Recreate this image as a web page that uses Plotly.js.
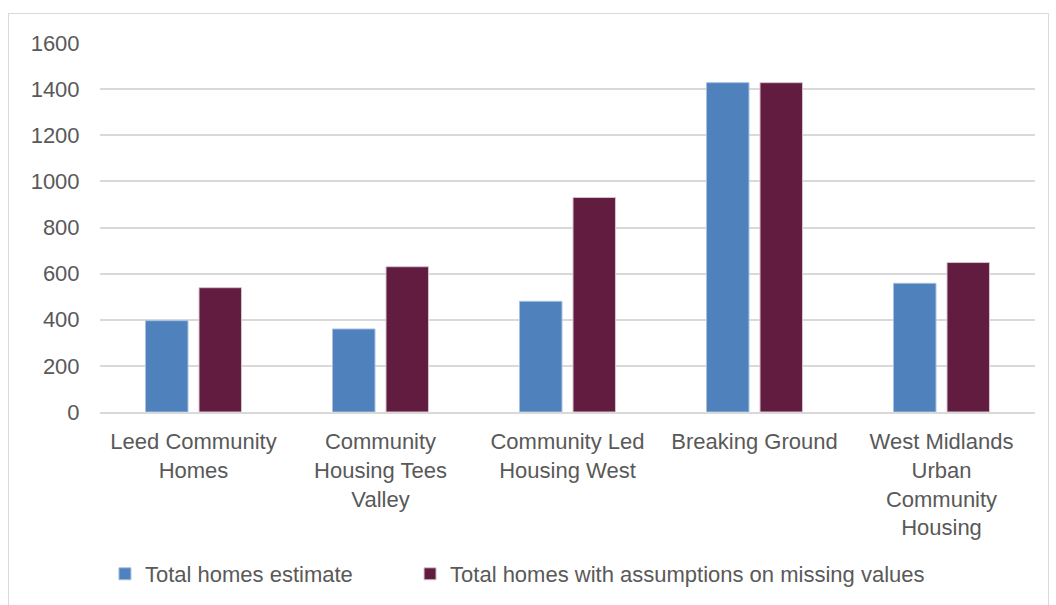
<!DOCTYPE html>
<html>
<head>
<meta charset="utf-8">
<script src="https://cdn.plot.ly/plotly-3.0.1.min.js"></script>
<style>
html,body{margin:0;padding:0;background:#fff;}
#frame{position:absolute;left:8px;top:13px;width:1041px;height:600px;border:1px solid #d9d9d9;box-sizing:border-box;}
#chart{position:absolute;left:0;top:0;width:1056px;height:605px;}
</style>
</head>
<body>
<div id="frame"></div>
<div id="chart"></div>
<script>
const categories = [
  "Leed Community<br>Homes",
  "Community<br>Housing Tees<br>Valley",
  "Community Led<br>Housing West",
  "Breaking Ground",
  "West Midlands<br>Urban<br>Community<br>Housing"
];
const seriesNames = ["Total homes estimate", "Total homes with assumptions on missing values"];
const totalEstimate = [396, 360, 480, 1428, 558];
const totalWithAssumptions = [539, 630, 930, 1428, 648];
const yTicks = [0, 200, 400, 600, 800, 1000, 1200, 1400, 1600];

const FONT = "Liberation Sans, Arial, sans-serif";
const FS = 22;
const traces = [
  {type: "bar", name: seriesNames[0], x: categories, y: totalEstimate, legend: "legend",
   marker: {color: "#4F81BD", line: {color: "#A7C0DE", width: 1}}},
  {type: "bar", name: seriesNames[1], x: categories, y: totalWithAssumptions, legend: "legend2",
   marker: {color: "#611C40", line: {color: "#D5C4CC", width: 1}}}
];
const legendBase = {orientation: "h", xanchor: "left", y: -0.439, yanchor: "middle",
  font: {family: FONT, size: FS, color: "#595959"}, itemwidth: 30, bgcolor: "rgba(0,0,0,0)"};
const layout = {
  width: 1056, height: 605,
  margin: {l: 100, r: 21, t: 43, b: 193, autoexpand: false},
  paper_bgcolor: "rgba(0,0,0,0)", plot_bgcolor: "rgba(0,0,0,0)",
  font: {family: FONT, size: FS, color: "#595959"},
  barmode: "group", bargap: 0.428, bargroupgap: 0.206,
  showlegend: true,
  legend: Object.assign({}, legendBase, {x: 0.0053}),
  legend2: Object.assign({}, legendBase, {x: 0.3316}),
  xaxis: {type: "category", showgrid: false, showline: true, linecolor: "#d9d9d9", linewidth: 2,
          ticks: "outside", ticklen: 9, tickcolor: "rgba(0,0,0,0)", tickangle: 0, automargin: false,
          tickfont: {family: FONT, size: FS, color: "#595959"}},
  yaxis: {range: [0, 1600], tickvals: yTicks, showgrid: true, gridcolor: "#d9d9d9", gridwidth: 2,
          zeroline: false, showline: false, ticks: "outside", ticklen: 15, tickcolor: "rgba(0,0,0,0)",
          automargin: false, tickfont: {family: FONT, size: FS, color: "#595959"}}
};
Plotly.newPlot("chart", traces, layout, {displayModeBar: false, staticPlot: true});
</script>
</body>
</html>
